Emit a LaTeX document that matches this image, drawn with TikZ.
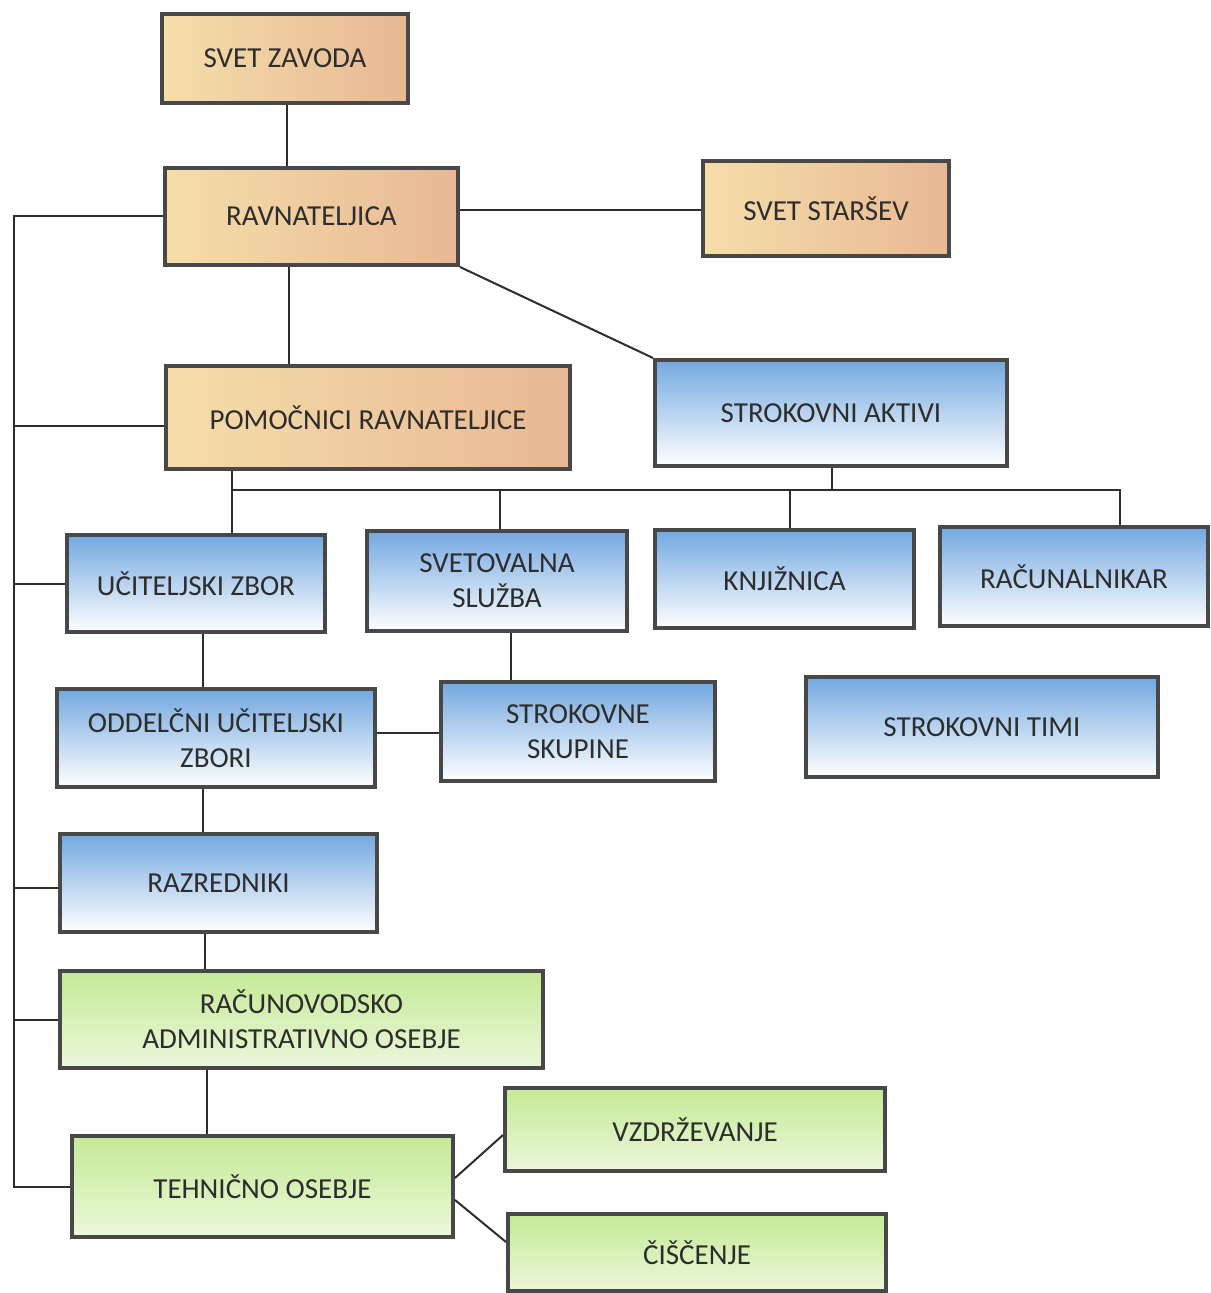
\documentclass[tikz,border=0pt]{standalone}
\usepackage{fontspec}
\setmainfont{Carlito}
\usetikzlibrary{calc}
\definecolor{orL}{RGB}{245,222,170}
\definecolor{orR}{RGB}{232,184,148}
\definecolor{blT}{RGB}{115,168,224}
\definecolor{blM}{RGB}{198,224,246}
\definecolor{grT}{RGB}{196,234,150}
\definecolor{grB}{RGB}{236,247,218}
\definecolor{bord}{RGB}{72,72,72}
\definecolor{lin}{RGB}{45,45,45}
\definecolor{txt}{RGB}{45,45,45}
\begin{document}
\begin{tikzpicture}[x=0.5pt,y=-0.5pt,
  box/.style={draw=bord, line width=2pt, text=txt, align=center, inner sep=0pt,
    font=\fontsize{14.5}{17.5}\selectfont},
  org/.style={box, left color=orL, right color=orR},
  blu/.style={box, top color=blT, middle color=blM, bottom color=white},
  grn/.style={box, top color=grT, bottom color=grB},
  conn/.style={draw=lin, line width=1pt}]
\useasboundingbox (0,0) rectangle (1210,1293);

% nodes
\node[org, minimum width=123pt, minimum height=44.5pt] (zavod) at (285,58.5) {SVET ZAVODA};
\node[org, minimum width=146.5pt, minimum height=48.5pt] (ravn) at (311.5,216.5) {RAVNATELJICA};
\node[org, minimum width=123pt, minimum height=47.5pt] (starsev) at (826,208.5) {SVET STARŠEV};
\node[org, minimum width=202pt, minimum height=51.5pt] (pomoc) at (368,417.5) {POMOČNICI RAVNATELJICE};
\node[blu, minimum width=176pt, minimum height=53pt] (aktivi) at (831,413) {STROKOVNI AKTIVI};
\node[blu, minimum width=129pt, minimum height=48.5pt] (ucit) at (196,583.5) {UČITELJSKI ZBOR};
\node[blu, minimum width=130pt, minimum height=50pt] (svet) at (497,581) {SVETOVALNA\\SLUŽBA};
\node[blu, minimum width=129.5pt, minimum height=49pt] (knjiz) at (784.5,579) {KNJIŽNICA};
\node[blu, minimum width=134pt, minimum height=49.5pt] (racun) at (1074,576.5) {RAČUNALNIKAR};
\node[blu, minimum width=159pt, minimum height=49pt] (oddel) at (216,738) {ODDELČNI UČITELJSKI\\ZBORI};
\node[blu, minimum width=137pt, minimum height=49.5pt] (skup) at (578,731.5) {STROKOVNE\\SKUPINE};
\node[blu, minimum width=176pt, minimum height=50pt] (timi) at (982,727) {STROKOVNI TIMI};
\node[blu, minimum width=158.5pt, minimum height=49pt] (razr) at (218.5,883) {RAZREDNIKI};
\node[grn, minimum width=241.5pt, minimum height=48.5pt] (racunov) at (301.5,1019.5) {RAČUNOVODSKO\\ADMINISTRATIVNO OSEBJE};
\node[grn, minimum width=190.5pt, minimum height=50.5pt] (tehn) at (262.5,1186.5) {TEHNIČNO OSEBJE};
\node[grn, minimum width=190pt, minimum height=41.5pt] (vzdr) at (695,1129.5) {VZDRŽEVANJE};
\node[grn, minimum width=189pt, minimum height=38.5pt] (cisc) at (697,1252.5) {ČIŠČENJE};

% helper coordinates
\coordinate (xa) at (287,0);
\coordinate (xb) at (289,0);
\coordinate (xt) at (14,0);
\coordinate (xc) at (232,0);
\coordinate (xd) at (832,0);
\coordinate (xe) at (500,0);
\coordinate (xf) at (790,0);
\coordinate (xg) at (1120,0);
\coordinate (xh) at (203,0);
\coordinate (xi) at (511,0);
\coordinate (xj) at (205,0);
\coordinate (xk) at (207,0);
\coordinate (ya) at (0,210);
\coordinate (yb) at (0,490);
\coordinate (ys) at (0,733);
\coordinate (py) at (0,426);
\coordinate (ry) at (0,888);

% connectors
\draw[conn] (zavod.south -| xa) -- (ravn.north -| xa);
\draw[conn] (ravn.east |- ya) -- (starsev.west |- ya);
\draw[conn] (ravn.south -| xb) -- (pomoc.north -| xb);
\draw[conn] (ravn.south east) -- (aktivi.north west);
\draw[conn] (ravn.west) -| (xt |- tehn.west) -- (tehn.west);
\draw[conn] (pomoc.west |- py) -- (xt |- py);
\draw[conn] (ucit.west) -- (ucit.west -| xt);
\draw[conn] (razr.west |- ry) -- (xt |- ry);
\draw[conn] (racunov.west) -- (racunov.west -| xt);
\draw[conn] (pomoc.south -| xc) -- (ucit.north -| xc);
\draw[conn] (xc |- yb) -- (xg |- yb) -- (racun.north -| xg);
\draw[conn] (aktivi.south -| xd) -- (xd |- yb);
\draw[conn] (xe |- yb) -- (svet.north -| xe);
\draw[conn] (xf |- yb) -- (knjiz.north -| xf);
\draw[conn] (ucit.south -| xh) -- (oddel.north -| xh);
\draw[conn] (oddel.south -| xh) -- (razr.north -| xh);
\draw[conn] (svet.south -| xi) -- (skup.north -| xi);
\draw[conn] (oddel.east |- ys) -- (skup.west |- ys);
\draw[conn] (razr.south -| xj) -- (racunov.north -| xj);
\draw[conn] (racunov.south -| xk) -- (tehn.north -| xk);
\draw[conn] ($(tehn.east)+(0,-8.5)$) -- ($(vzdr.west)+(0,5.5)$);
\draw[conn] ($(tehn.east)+(0,13.5)$) -- ($(cisc.west)+(0,-10.5)$);
\end{tikzpicture}
\end{document}
